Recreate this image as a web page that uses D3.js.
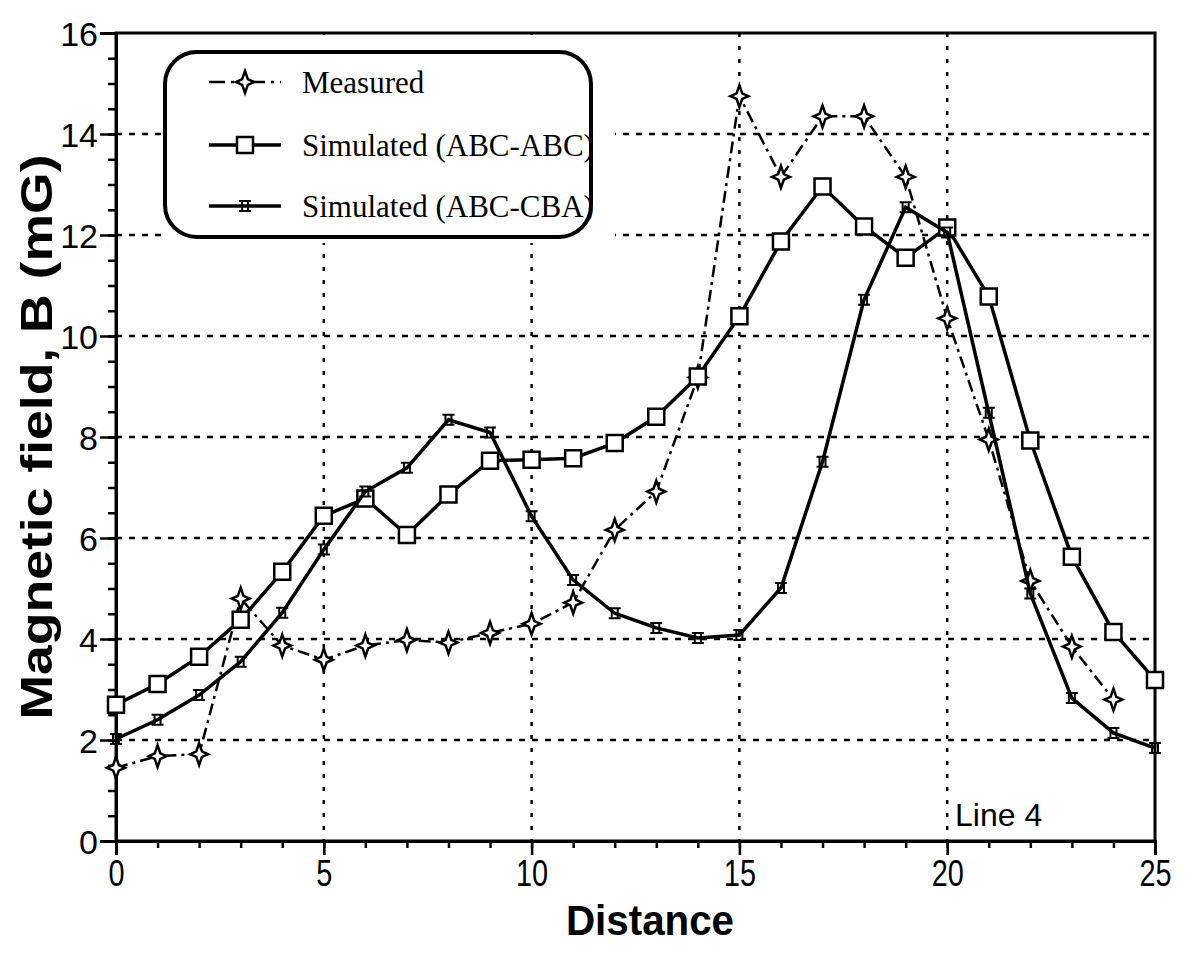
<!DOCTYPE html>
<html>
<head>
<meta charset="utf-8">
<script src="https://cdn.jsdelivr.net/npm/d3@7"></script>
<style>
  body { margin: 0; background: #fff; }
  svg { display: block; }
</style>
</head>
<body>
<div id="chart"></div>
<script>
// Data
const distance = [0,1,2,3,4,5,6,7,8,9,10,11,12,13,14,15,16,17,18,19,20,21,22,23,24,25];
const measured = [1.45,1.68,1.72,4.8,3.87,3.59,3.87,3.98,3.93,4.12,4.3,4.72,6.16,6.92,9.18,14.75,13.15,14.35,14.35,13.15,10.35,7.95,5.15,3.85,2.8];
const simABC = [2.7,3.11,3.65,4.38,5.33,6.44,6.78,6.06,6.86,7.53,7.55,7.58,7.88,8.4,9.2,10.39,11.87,12.96,12.17,11.55,12.15,10.78,7.93,5.63,4.14,3.19];
const simCBA = [2.02,2.4,2.89,3.55,4.52,5.77,6.92,7.39,8.34,8.09,6.43,5.17,4.51,4.22,4.02,4.08,5.01,7.51,10.72,12.55,12.05,8.48,4.9,2.83,2.14,1.84];
const xTicks = [0,5,10,15,20,25];
const yTicks = [0,2,4,6,8,10,12,14,16];
const legendLabels = ["Measured", "Simulated (ABC-ABC)", "Simulated (ABC-CBA)"];

const W = 1185, H = 957;
const plot = { left: 116, right: 1155, top: 33, bottom: 841 };

const svg = d3.select("#chart").append("svg")
  .attr("width", W).attr("height", H);

const x = d3.scaleLinear().domain([0, 25]).range([plot.left, plot.right]);
const y = d3.scaleLinear().domain([0, 16]).range([plot.bottom, plot.top]);

// grid
svg.append("g")
  .selectAll("line").data(yTicks.filter(d => d > 0 && d < 16)).join("line")
    .attr("x1", plot.left).attr("x2", plot.right)
    .attr("y1", d => y(d)).attr("y2", d => y(d))
    .attr("stroke", "#000").attr("stroke-width", 2.5)
    .attr("stroke-dasharray", "6,7");
svg.append("g")
  .selectAll("line").data(xTicks.filter(d => d > 0 && d < 25)).join("line")
    .attr("x1", d => x(d)).attr("x2", d => x(d))
    .attr("y1", plot.top).attr("y2", plot.bottom)
    .attr("stroke", "#000").attr("stroke-width", 2.5)
    .attr("stroke-dasharray", "4,9");

// blank area behind the legend
svg.append("rect")
  .attr("x", 163).attr("y", plot.top + 2).attr("width", 452).attr("height", 208)
  .attr("fill", "#fff");

// frame
svg.append("rect")
  .attr("x", plot.left).attr("y", plot.top)
  .attr("width", plot.right - plot.left).attr("height", plot.bottom - plot.top)
  .attr("fill", "none").attr("stroke", "#000").attr("stroke-width", 3);

// axes
const xAxis = svg.append("g")
  .attr("transform", `translate(0,${plot.bottom})`)
  .call(d3.axisBottom(x).tickValues(xTicks).tickSize(14).tickPadding(5).tickFormat(d3.format("d")));
svg.append("g")
  .attr("transform", `translate(0,${plot.bottom})`)
  .call(d3.axisBottom(x).tickValues(d3.range(0, 26, 1)).tickSize(7).tickFormat(""));
const yAxis = svg.append("g")
  .attr("transform", `translate(${plot.left},0)`)
  .call(d3.axisLeft(y).tickValues(yTicks).tickSize(16).tickPadding(2).tickFormat(d3.format("d")));
svg.append("g")
  .attr("transform", `translate(${plot.left},0)`)
  .call(d3.axisLeft(y).tickValues(d3.range(0, 16.5, 0.5)).tickSize(8).tickFormat(""));

svg.selectAll(".domain").attr("stroke-width", 3);
svg.selectAll(".tick line").attr("stroke-width", 2.5);
xAxis.selectAll("text")
  .attr("font-family", "'Liberation Sans', Arial, sans-serif")
  .attr("font-size", 37).attr("fill", "#000")
  .attr("transform", "scale(0.78,1)");
yAxis.selectAll("text")
  .attr("font-family", "'Liberation Sans', sans-serif")
  .attr("font-size", 34).attr("fill", "#000").attr("dy", "0.36em");

// axis titles
svg.append("text")
  .attr("x", 650).attr("y", 935)
  .attr("text-anchor", "middle")
  .attr("font-family", "'Liberation Sans', Arial, sans-serif")
  .attr("font-weight", "bold").attr("font-size", 42)
  .attr("textLength", 168).attr("lengthAdjust", "spacingAndGlyphs")
  .text("Distance");
svg.append("text")
  .attr("transform", `translate(52,${(plot.top + plot.bottom) / 2}) rotate(-90)`)
  .attr("text-anchor", "middle")
  .attr("font-family", "'Liberation Sans', Arial, sans-serif")
  .attr("font-weight", "bold").attr("font-size", 44)
  .attr("textLength", 565).attr("lengthAdjust", "spacingAndGlyphs")
  .text("Magnetic field, B (mG)");

svg.append("text")
  .attr("x", 955).attr("y", 826)
  .attr("font-family", "'Liberation Sans', sans-serif")
  .attr("font-size", 32)
  .text("Line 4");

// marker shapes
const starPath = "M0,-11 L2.8,-2.8 L9,0 L2.8,2.8 L0,11 L-2.8,2.8 L-9,0 L-2.8,-2.8 Z";
const squarePath = "M-8,-8 H8 V8 H-8 Z";
const tickPath = "M-6,-5 H6 M-6,5 H6 M-3,-5 V5 M3,-5 V5";

const line = d3.line().x(d => x(d[0])).y(d => y(d[1]));

const series = [
  { data: measured, dash: "12,5,3,5", width: 2.5, shape: starPath, fill: "#fff", sw: 2.5 },
  { data: simABC, dash: null, width: 3.5, shape: squarePath, fill: "#fff", sw: 2.5 },
  { data: simCBA, dash: null, width: 3.5, shape: tickPath, fill: "none", sw: 2 }
];

series.forEach(s => {
  const pts = s.data.map((v, i) => [distance[i], v]);
  svg.append("path")
    .datum(pts)
    .attr("fill", "none").attr("stroke", "#000")
    .attr("stroke-width", s.width)
    .attr("stroke-dasharray", s.dash)
    .attr("d", line);
  svg.append("g")
    .selectAll("path").data(pts).join("path")
      .attr("transform", d => `translate(${x(d[0])},${y(d[1])})`)
      .attr("d", s.shape)
      .attr("fill", s.fill).attr("stroke", "#000").attr("stroke-width", s.sw);
});

// legend
const lg = svg.append("g");
lg.append("rect")
  .attr("x", 165).attr("y", 52).attr("width", 426).attr("height", 185)
  .attr("rx", 32).attr("ry", 32)
  .attr("fill", "#fff").attr("stroke", "#000").attr("stroke-width", 4);
const rows = [82, 145, 206];
series.forEach((s, i) => {
  lg.append("line")
    .attr("x1", 209).attr("x2", 281).attr("y1", rows[i]).attr("y2", rows[i])
    .attr("stroke", "#000").attr("stroke-width", s.width)
    .attr("stroke-dasharray", i === 0 ? "16,6,3,6,3,6" : null);
  lg.append("path")
    .attr("transform", `translate(245,${rows[i]})`)
    .attr("d", s.shape)
    .attr("fill", s.fill).attr("stroke", "#000").attr("stroke-width", s.sw);
  lg.append("text")
    .attr("x", 302).attr("y", rows[i]).attr("dy", "0.35em")
    .attr("font-family", "'Liberation Serif', 'Times New Roman', serif")
    .attr("font-size", 31)
    .text(legendLabels[i]);
});
</script>
</body>
</html>
